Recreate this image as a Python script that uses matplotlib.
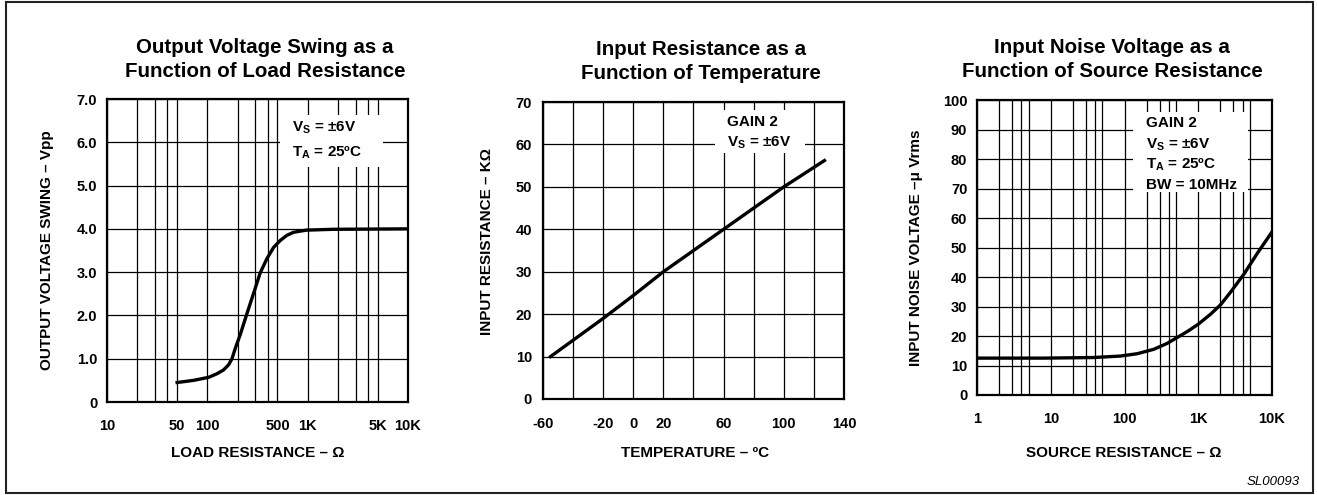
import matplotlib
matplotlib.use("Agg")
import matplotlib.pyplot as plt
from matplotlib.patches import Rectangle
from matplotlib.ticker import FixedLocator, FixedFormatter, NullLocator

plt.rcParams["font.family"] = ["Liberation Sans", "DejaVu Sans"]
plt.rcParams["font.weight"] = "bold"
plt.rcParams["axes.labelweight"] = "bold"

# --- Output voltage swing vs load resistance ---
load_r = [50, 73, 103, 124, 145, 163, 176, 190, 213, 248, 289, 336, 392, 457, 532,
          620, 722, 966, 1807, 10000]
v_swing = [0.45, 0.5, 0.57, 0.65, 0.74, 0.86, 1.0, 1.24, 1.56, 2.04, 2.51, 2.98, 3.31,
           3.57, 3.73, 3.85, 3.92, 3.97, 3.99, 4.0]
load_ticks = [10, 50, 100, 500, 1000, 5000, 10000]
load_labels = ["10", "50", "100", "500", "1K", "5K", "10K"]
swing_ticks = [0, 1, 2, 3, 4, 5, 6, 7]
swing_labels = ["0", "1.0", "2.0", "3.0", "4.0", "5.0", "6.0", "7.0"]

# --- Input resistance vs temperature ---
temp_c = [-55, -20, 0, 20, 60, 100, 127]
r_in = [10, 19, 24.4, 30, 40, 50, 56.2]
temp_ticks = [-60, -20, 0, 20, 60, 100, 140]
rin_ticks = [0, 10, 20, 30, 40, 50, 60, 70]

# --- Input noise voltage vs source resistance ---
src_r = [1, 8, 38, 88, 149, 250, 379, 519, 709, 1000, 1470, 2010, 2750, 4170, 6310, 10000]
noise_v = [12.5, 12.5, 12.7, 13.2, 14.0, 15.5, 17.5, 19.5, 21.5, 24.0, 27.4, 30.6,
           34.9, 41.0, 48.0, 55.3]
src_ticks = [1, 10, 100, 1000, 10000]
src_labels = ["1", "10", "100", "1K", "10K"]
noise_ticks = list(range(0, 101, 10))

W, H = 1317, 495
fig = plt.figure(figsize=(W / 100, H / 100), dpi=100)


def px_axes(left, right, top, bottom):
    return fig.add_axes([left / W, 1 - bottom / H, (right - left) / W, (bottom - top) / H])


def log_grid(lo, hi):
    out = []
    d = lo
    while d < hi:
        out += [m * d for m in (1, 2, 3, 4, 5)]
        d *= 10
    return out + [hi]


def style(ax, xpad, ypad):
    ax.grid(True, which="both", color="black", linewidth=0.9, zorder=1)
    ax.set_axisbelow(True)
    ax.tick_params(which="both", length=0, labelsize=10.5)
    ax.tick_params(axis="x", pad=xpad)
    ax.tick_params(axis="y", pad=ypad)
    for s in ax.spines.values():
        s.set_linewidth(1.6)
        s.set_zorder(5)


def add_box(ax, x0, x1, y0, y1, lines, tx, tys):
    ax.add_patch(Rectangle((x0, y0), x1 - x0, y1 - y0, transform=ax.transAxes,
                           facecolor="white", edgecolor="none", zorder=2))
    for txt, ty in zip(lines, tys):
        ax.text(tx, ty, txt, transform=ax.transAxes, fontsize=11,
                ha="left", va="center", zorder=4)


def labels(ax, xl, yl, xc, yc):
    ax.set_xlabel(xl, fontsize=11)
    ax.set_ylabel(yl, fontsize=11)
    ax.xaxis.set_label_coords(*xc)
    ax.yaxis.set_label_coords(*yc)
    ax.xaxis.label.set_va("center")
    ax.yaxis.label.set_va("center")


vs_txt = r"V$_\mathregular{S}$ = ±6V"
ta_txt = r"T$_\mathregular{A}$ = 25ºC"

# chart 1
ax1 = px_axes(107, 408, 99, 402)
ax1.plot(load_r, v_swing, color="black", linewidth=2.4, zorder=3)
ax1.set_xscale("log")
ax1.set_xlim(10, 10000)
ax1.set_ylim(0, 7)
grid1 = log_grid(10, 10000)
ax1.xaxis.set_major_locator(FixedLocator(grid1))
ax1.xaxis.set_major_formatter(FixedFormatter(
    [load_labels[load_ticks.index(g)] if g in load_ticks else "" for g in grid1]))
ax1.xaxis.set_minor_locator(NullLocator())
ax1.set_yticks(swing_ticks, swing_labels)
style(ax1, 12, 7)
add_box(ax1, 0.575, 0.917, 0.776, 0.947, [vs_txt, ta_txt], 0.615, [0.904, 0.822])
labels(ax1, "LOAD RESISTANCE – Ω", "OUTPUT VOLTAGE SWING – Vpp", (0.502, -0.168), (-0.199, 0.5))

# chart 2
ax2 = px_axes(543, 844, 102, 399)
ax2.plot(temp_c, r_in, color="black", linewidth=2.4, zorder=3)
ax2.set_xlim(-60, 140)
ax2.set_ylim(0, 70)
ax2.xaxis.set_major_locator(FixedLocator(list(range(-60, 141, 20))))
ax2.xaxis.set_major_formatter(FixedFormatter(
    [str(v) if v in temp_ticks else "" for v in range(-60, 141, 20)]))
ax2.set_yticks(rin_ticks)
style(ax2, 13, 8)
add_box(ax2, 0.571, 0.870, 0.828, 0.973, ["GAIN 2", vs_txt], 0.611, [0.933, 0.862])
labels(ax2, "TEMPERATURE – ºC", "INPUT RESISTANCE – KΩ", (0.505, -0.182), (-0.186, 0.529))

# chart 3
ax3 = px_axes(977, 1272, 100, 395)
ax3.plot(src_r, noise_v, color="black", linewidth=2.4, zorder=3)
ax3.set_xscale("log")
ax3.set_xlim(1, 10000)
ax3.set_ylim(0, 100)
grid3 = log_grid(1, 10000)
ax3.xaxis.set_major_locator(FixedLocator(grid3))
ax3.xaxis.set_major_formatter(FixedFormatter(
    [src_labels[src_ticks.index(g)] if g in src_ticks else "" for g in grid3]))
ax3.xaxis.set_minor_locator(NullLocator())
ax3.set_yticks(noise_ticks)
style(ax3, 12, 7)
add_box(ax3, 0.529, 0.919, 0.688, 0.959,
        ["GAIN 2", vs_txt, ta_txt, "BW = 10MHz"], 0.573, [0.922, 0.847, 0.780, 0.712])
labels(ax3, "SOURCE RESISTANCE – Ω", "INPUT NOISE VOLTAGE –μ Vrms", (0.498, -0.197), (-0.207, 0.498))

# titles
for cx, cy, t in [(265, 59.5, "Output Voltage Swing as a\nFunction of Load Resistance"),
                  (701, 61.5, "Input Resistance as a\nFunction of Temperature"),
                  (1112, 59.5, "Input Noise Voltage as a\nFunction of Source Resistance")]:
    fig.text(cx / W, 1 - cy / H, t, ha="center", va="center", fontsize=14.8,
             linespacing=1.38)

fig.text(1300 / W, 1 - 482 / H, "SL00093", ha="right", va="center", fontsize=9.5,
         style="italic", fontweight="normal")

fig.patches.append(Rectangle((6 / W, 2 / H), 1307 / W, 491 / H, transform=fig.transFigure,
                             fill=False, edgecolor="#222222", linewidth=1.5))

fig.savefig("out.png", dpi=100)
